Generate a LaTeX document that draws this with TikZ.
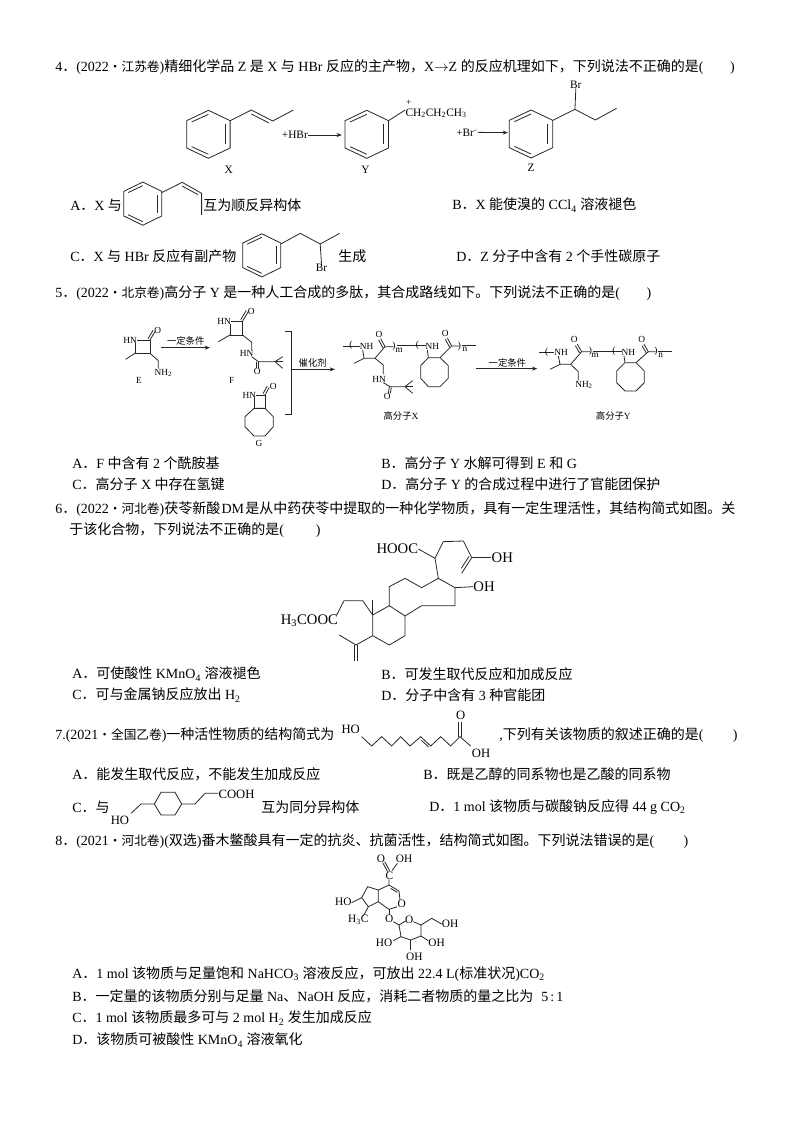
\documentclass[tikz,border=0pt]{standalone}
\usepackage{fontspec}
\setmainfont{Liberation Serif}
\newfontfamily\zhfont{Noto Sans CJK SC}
\usetikzlibrary{arrows.meta}
\newcommand{\zh}[1]{{\zhfont #1}}
\newcommand{\prov}[1]{{\zhfont\fontsize{9.5}{10}\selectfont #1}}
\newcommand{\benzring}[2][]{%
\begin{scope}[shift={#2},#1]
\draw[bond] (0,-72) -- (48,-41) -- (48,41) -- (0,72) -- (-48,41) -- (-48,-41) -- cycle;
\draw[bond] (-37,-37) -- (0,-60);
\draw[bond] (37,-30) -- (37,30);
\draw[bond] (-37,37) -- (0,60);
\end{scope}}
\tikzset{
  bond/.style={line width=0.6pt,black!85},
  rarrow/.style={line width=0.6pt,black!85,-{Stealth[length=4pt,width=3pt]}},
  qline/.style={anchor=west,inner sep=0pt,font=\fontsize{10.5}{12}\selectfont},
  atom/.style={inner sep=0pt,font=\fontsize{8.5}{9}\selectfont},
  small/.style={inner sep=0pt,font=\fontsize{7}{8}\selectfont},
  big/.style={inner sep=0pt,font=\fontsize{11}{12}\selectfont},
  zoomA/.style={x=0.3394pt,y=-0.25pt},
  zoomB/.style={x=0.25pt,y=-0.25pt},
}
\begin{document}
\begin{tikzpicture}[x=0.75pt,y=-0.75pt]
\useasboundingbox (0,0) rectangle (794,1123);
% question 4
\node[qline] (q4) at (55,67) {4\zh{．}(2022\prov{·江苏卷})\zh{精细化学品} Z \zh{是} X \zh{与} HBr \zh{反应的主产物，}X$\to$Z \zh{的反应机理如下，下列说法不正确的是}(\hspace{20pt})};
\begin{scope}[shift={(50,50)},zoomA]
\benzring{(350,253)}
\draw[bond] (398,212) -- (445,180) -- (492,213) -- (538,180);
\draw[bond] (445,192) -- (484,219);
\node[atom] (labX) at (395,360) {X};
\node[atom] (hbr) at (541,255) {+HBr};
\coordinate (hbrEnd) at (645,255);
\draw[rarrow] (hbr.east) -- (hbrEnd);
\benzring{(700,253)}
\draw[bond] (748,212) -- (785,180);
\node[atom,anchor=west] (ipr) at (785,190) {CH\textsubscript{2}CH\textsubscript{2}CH\textsubscript{3}};
\node[small] (plus) at (793,158) {+};
\node[atom] (labY) at (697,360) {Y};
\node[atom] (br1) at (921,247) {+Br\textsuperscript{-}};
\coordinate (brEnd) at (1012,248);
\draw[rarrow] (br1.east) -- (brEnd);
\benzring{(1063,252)}
\draw[bond] (1111,211) -- (1160,178) -- (1205,210) -- (1252,175);
\node[atom] (brZ) at (1162,103) {Br};
\draw[bond] (brZ.south) -- (1160,178);
\node[atom] (labZ) at (1063,352) {Z};
\benzring[xscale=.875,yscale=.9]{(205,461)}
\draw[bond] (247,428) -- (292,397) -- (335,430) -- (335,495);
\draw[bond] (292,408) -- (327,434);
\benzring[xscale=.875,yscale=.9]{(468,616)}
\draw[bond] (510,582) -- (553,550) -- (597,582) -- (640,550);
\node[atom] (brC) at (600,653) {Br};
\draw[bond] (597,582) -- (brC.north);
\end{scope}
\node[qline] (q4a) at (70,205) {A\zh{．}X \zh{与}};
\node[qline] (q4a2) at (203,205) {\zh{互为顺反异构体}};
\node[qline] (q4b) at (452,205) {B\zh{．}X \zh{能使溴的} CCl\textsubscript{4} \zh{溶液褪色}};
\node[qline] (q4c) at (70,256) {C\zh{．}X \zh{与} HBr \zh{反应有副产物}};
\node[qline] (q4c2) at (338,256) {\zh{生成}};
\node[qline] (q4d) at (456,256) {D\zh{．}Z \zh{分子中含有} 2 \zh{个手性碳原子}};
% question 5
\node[qline] (q5) at (55,293) {5\zh{．}(2022\prov{·北京卷})\zh{高分子} Y \zh{是一种人工合成的多肽，其合成路线如下。下列说法不正确的是}(\hspace{20pt})};
\begin{scope}[shift={(110,310)},zoomB]
% E
\draw[bond] (75,90) -- (120,90) -- (120,130) -- (75,130) -- cycle;
\node[small,fill=white] (hnE) at (60,90) {HN};
\draw[bond] (120,90) -- (135,65);
\draw[bond] (114,86) -- (129,61);
\node[small] (oE) at (143,62) {O};
\draw[bond] (75,130) -- (47,148);
\draw[bond] (120,130) -- (145,152) -- (145,176);
\node[small] (nh2E) at (160,188) {NH\textsubscript{2}};
\node[small] (labE) at (87,212) {E};
\coordinate (a1s) at (152,113);
\coordinate (a1e) at (300,113);
\draw[rarrow] (a1s) -- (a1e);
\node[small] (cond1) at (227,93) {\zh{一定条件}};
% F
\draw[bond] (360,33) -- (398,33) -- (398,75) -- (360,75) -- cycle;
\node[small,fill=white] (hnF) at (342,33) {HN};
\draw[bond] (398,33) -- (415,5);
\draw[bond] (392,29) -- (409,1);
\node[small] (oF) at (424,5) {O};
\draw[bond] (360,75) -- (325,95);
\draw[bond] (398,75) -- (425,97) -- (425,120);
\node[small] (hn2F) at (410,130) {HN};
\draw[bond] (425,140) -- (445,155) -- (495,155);
\draw[bond] (445,155) -- (445,175);
\draw[bond] (439,155) -- (439,175);
\node[small] (o2F) at (442,185) {O};
\draw[bond] (495,155) -- (518,140);
\draw[bond] (495,155) -- (518,175);
\draw[bond] (495,155) -- (520,155);
\node[small] (labF) at (365,212) {F};
% G
\draw[bond] (432,255) -- (465,255) -- (465,295) -- (432,295) -- cycle;
\node[small,fill=white] (hnG) at (418,255) {HN};
\draw[bond] (465,255) -- (478,232);
\draw[bond] (459,251) -- (472,228);
\node[small] (oG) at (490,228) {O};
\draw[bond] (432,295) -- (465,295) -- (490,320) -- (490,350) -- (465,378) -- (432,378) -- (405,350) -- (405,320) -- cycle;
\node[small] (labG) at (447,400) {G};
\draw[bond] (525,65) -- (543,65) -- (543,313) -- (525,313);
\coordinate (a2s) at (545,178);
\coordinate (a2e) at (675,178);
\draw[rarrow] (a2s) -- (a2e);
\node[small] (cat) at (608,160) {\zh{催化剂}};
\end{scope}
\begin{scope}[shift={(340,310)},zoomB]
% polymer X
\draw[bond] (10,108) -- (65,108);
\node[small,fill=white] (nhX) at (80,108) {NH};
\node[small] (p1X) at (33,107) {(};
\draw[bond] (68,120) -- (72,145) -- (42,160);
\draw[bond] (72,145) -- (105,145) -- (135,110) -- (160,110);
\draw[bond] (135,110) -- (122,86);
\draw[bond] (129,114) -- (116,90);
\node[small] (oX) at (117,72) {O};
\node[small] (p2X) at (162,110) {)};
\node[small] (mX) at (177,120) {m};
\draw[bond] (170,107) -- (260,107);
\node[small] (p3X) at (232,107) {(};
\node[small,fill=white] (nh2X) at (277,108) {NH};
\draw[bond] (262,120) -- (265,143);
\draw[bond] (265,143) -- (300,143) -- (325,167) -- (325,205) -- (300,230) -- (265,230) -- (242,205) -- (242,167) -- cycle;
\draw[bond] (300,143) -- (335,108) -- (357,108);
\draw[bond] (335,108) -- (322,84);
\draw[bond] (329,112) -- (316,88);
\node[small] (o2X) at (316,70) {O};
\node[small] (p4X) at (358,108) {)};
\node[small] (nX) at (375,117) {n};
\draw[bond] (365,105) -- (408,105);
\draw[bond] (105,145) -- (130,165) -- (130,192);
\node[small] (hnX) at (117,207) {HN};
\draw[bond] (130,218) -- (150,230) -- (195,230);
\draw[bond] (148,230) -- (145,250);
\draw[bond] (154,232) -- (151,250);
\node[small] (o3X) at (142,260) {O};
\draw[bond] (195,230) -- (218,212);
\draw[bond] (195,230) -- (218,250);
\draw[bond] (195,230) -- (220,230);
\node[small] (labPX) at (183,317) {\zh{高分子}X};
\coordinate (a3s) at (408,176);
\coordinate (a3e) at (592,176);
\draw[rarrow] (a3s) -- (a3e);
\node[small] (cond2) at (502,160) {\zh{一定条件}};
% polymer Y
\draw[bond] (598,127) -- (645,127);
\node[small] (p1Y) at (620,126) {(};
\node[small,fill=white] (nhY) at (663,127) {NH};
\draw[bond] (655,138) -- (660,163) -- (630,178);
\draw[bond] (660,163) -- (692,163) -- (725,125) -- (750,125);
\draw[bond] (725,125) -- (712,103);
\draw[bond] (719,129) -- (706,107);
\node[small] (oY) at (703,88) {O};
\node[small] (p2Y) at (751,125) {)};
\node[small] (mY) at (765,135) {m};
\draw[bond] (760,125) -- (850,125);
\node[small] (p3Y) at (822,125) {(};
\node[small,fill=white] (nh2Y) at (865,127) {NH};
\draw[bond] (852,138) -- (855,158);
\draw[bond] (855,158) -- (888,158) -- (913,183) -- (913,218) -- (888,243) -- (855,243) -- (830,218) -- (830,183) -- cycle;
\draw[bond] (888,158) -- (925,125) -- (947,125);
\draw[bond] (925,125) -- (912,103);
\draw[bond] (919,129) -- (906,107);
\node[small] (o2Y) at (905,88) {O};
\node[small] (p4Y) at (948,125) {)};
\node[small] (nY) at (962,135) {n};
\draw[bond] (955,125) -- (995,125);
\draw[bond] (692,163) -- (715,185) -- (715,212);
\node[small] (nh3Y) at (732,225) {NH\textsubscript{2}};
\node[small] (labPY) at (820,317) {\zh{高分子}Y};
\end{scope}
\node[qline] (q5a) at (72,463) {A\zh{．}F \zh{中含有} 2 \zh{个酰胺基}};
\node[qline] (q5b) at (381,463) {B\zh{．高分子} Y \zh{水解可得到} E \zh{和} G};
\node[qline] (q5c) at (72,484) {C\zh{．高分子} X \zh{中存在氢键}};
\node[qline] (q5d) at (381,484) {D\zh{．高分子} Y \zh{的合成过程中进行了官能团保护}};
% question 6
\node[qline] (q6) at (55,509) {6\zh{．}(2022\prov{·河北卷})\zh{茯苓新酸}\hspace{1pt}DM\hspace{1pt}\zh{是从中药茯苓中提取的一种化学物质，具有一定生理活性，其结构简式如图。关}};
\node[qline] (q6b) at (69,530) {\zh{于该化合物，下列说法不正确的是}(\hspace{24pt})};
\begin{scope}[shift={(270,535)},zoomB]
\node[big] (hooc) at (382,42) {HOOC};
\draw[bond] (hooc.east) -- (495,70) -- (520,20) -- (580,18) -- (605,68);
\node[big] (oh1) at (697,68) {OH};
\draw[bond] (605,68) -- (oh1.west);
\draw[bond] (605,68) -- (575,115);
\draw[bond] (597,64) -- (574,100);
\draw[bond] (495,70) -- (505,130) -- (455,158) -- (405,130) -- (358,155) -- (358,212) -- (405,243) -- (455,212) -- (555,212) -- (555,158) -- (505,130);
\node[big] (oh2) at (642,155) {OH};
\draw[bond] (555,158) -- (oh2.west);
\draw[bond] (358,212) -- (308,240) -- (308,302) -- (358,330) -- (405,302) -- (405,243);
\draw[bond] (308,240) -- (308,195);
\node[big] (ester) at (118,258) {H\textsubscript{3}COOC};
\draw[bond] (308,240) -- (278,197) -- (222,197) -- (200,240);
\draw[bond] (308,302) -- (258,330) -- (208,300);
\draw[bond] (254,330) -- (254,378);
\draw[bond] (262,330) -- (262,378);
\end{scope}
\node[qline] (q6c) at (72,674) {A\zh{．可使酸性} KMnO\textsubscript{4} \zh{溶液褪色}};
\node[qline] (q6d) at (381,674) {B\zh{．可发生取代反应和加成反应}};
\node[qline] (q6e) at (72,695) {C\zh{．可与金属钠反应放出} H\textsubscript{2}};
\node[qline] (q6f) at (381,695) {D\zh{．分子中含有} 3 \zh{种官能团}};
% question 7
\node[qline] (q7) at (55,735) {7.(2021\prov{·全国乙卷})\zh{一种活性物质的结构简式为}};
\node[qline] (q7b) at (499,735) {,\zh{下列有关该物质的叙述正确的是}(\hspace{22pt})};
\begin{scope}[shift={(60,705)},zoomB]
\node[big,font=\fontsize{9.5}{10}\selectfont] (ho7) at (872,72) {HO};
\draw[bond] (905,95) -- (935,123) -- (965,95) -- (995,123) -- (1022,95) -- (1050,123) -- (1082,95) -- (1112,123) -- (1142,95) -- (1172,123) -- (1200,95) -- (1232,123);
\draw[bond] (1084,106) -- (1106,126);
\draw[bond] (1196,95) -- (1196,50);
\draw[bond] (1204,95) -- (1204,50);
\node[big,font=\fontsize{9.5}{10}\selectfont] (o7) at (1202,32) {O};
\node[big,font=\fontsize{9.5}{10}\selectfont] (oh7) at (1263,145) {OH};
\draw[bond] (213,325) -- (243,297) -- (283,297) -- (303,262) -- (345,262) -- (365,297) -- (345,330) -- (303,330) -- (283,297);
\draw[bond] (365,297) -- (405,297) -- (435,265) -- (475,265);
\node[big,font=\fontsize{9.5}{10}\selectfont] (ho72) at (180,345) {HO};
\node[big,font=\fontsize{9.5}{10}\selectfont,anchor=west] (cooh) at (475,268) {COOH};
\end{scope}
\node[qline] (q7c) at (72,774) {A\zh{．能发生取代反应，不能发生加成反应}};
\node[qline] (q7d) at (423,774) {B\zh{．既是乙醇的同系物也是乙酸的同系物}};
\node[qline] (q7e) at (72,807) {C\zh{．与}};
\node[qline] (q7f) at (261,807) {\zh{互为同分异构体}};
\node[qline] (q7g) at (429,807) {D\zh{．}1 mol \zh{该物质与碳酸钠反应得} 44 g CO\textsubscript{2}};
% question 8
\node[qline] (q8) at (55,841) {8\zh{．}(2021\prov{·河北卷})(\zh{双选})\zh{番木鳖酸具有一定的抗炎、抗菌活性，结构简式如图。下列说法错误的是}(\hspace{22pt})};
\begin{scope}[shift={(320,850)},zoomB]
\node[atom] (o8) at (183,25) {O};
\node[atom] (oh8) at (252,27) {OH};
\node[atom] (c8) at (208,77) {C};
\draw[bond] (188,38) -- (203,65);
\draw[bond] (194,35) -- (209,62);
\draw[bond] (216,62) -- (232,40);
\draw[bond] (207,88) -- (207,105) -- (237,123) -- (240,150);
\draw[bond] (212,115) -- (232,127);
\node[atom] (o82) at (245,162) {O};
\draw[bond] (232,170) -- (207,178) -- (175,155) -- (175,120) -- (207,105);
\draw[bond] (175,120) -- (143,110) -- (125,143) -- (145,170) -- (175,155);
\draw[bond] (125,143) -- (95,158);
\node[atom] (ho8) at (70,155) {HO};
\draw[bond] (145,170) -- (130,198);
\node[atom] (me8) at (115,210) {H\textsubscript{3}C};
\draw[bond] (207,178) -- (207,195);
\node[atom] (o83) at (208,207) {O};
\draw[bond] (220,215) -- (237,225) -- (243,260) -- (272,270) -- (303,258) -- (303,225) -- (280,215);
\draw[bond] (237,225) -- (257,213);
\node[atom] (o84) at (268,208) {O};
\draw[bond] (303,225) -- (335,205) -- (365,222);
\node[atom] (oh82) at (390,222) {OH};
\draw[bond] (243,260) -- (220,272);
\node[atom] (ho82) at (192,277) {HO};
\draw[bond] (303,258) -- (325,272);
\node[atom] (oh83) at (350,277) {OH};
\draw[bond] (272,270) -- (272,300);
\node[atom] (oh84) at (283,320) {OH};
\end{scope}
\node[qline] (q8a) at (72,974) {A\zh{．}1 mol \zh{该物质与足量饱和} NaHCO\textsubscript{3} \zh{溶液反应，可放出} 22.4 L(\zh{标准状况})CO\textsubscript{2}};
\node[qline] (q8b) at (72,996) {B\zh{．一定量的该物质分别与足量} Na\zh{、}NaOH \zh{反应，消耗二者物质的量之比为}\hspace{6pt}5\hspace{1.5pt}:\hspace{1.5pt}1};
\node[qline] (q8c) at (72,1018) {C\zh{．}1 mol \zh{该物质最多可与} 2 mol H\textsubscript{2} \zh{发生加成反应}};
\node[qline] (q8d) at (72,1040) {D\zh{．该物质可被酸性} KMnO\textsubscript{4} \zh{溶液氧化}};
\end{tikzpicture}
\end{document}
